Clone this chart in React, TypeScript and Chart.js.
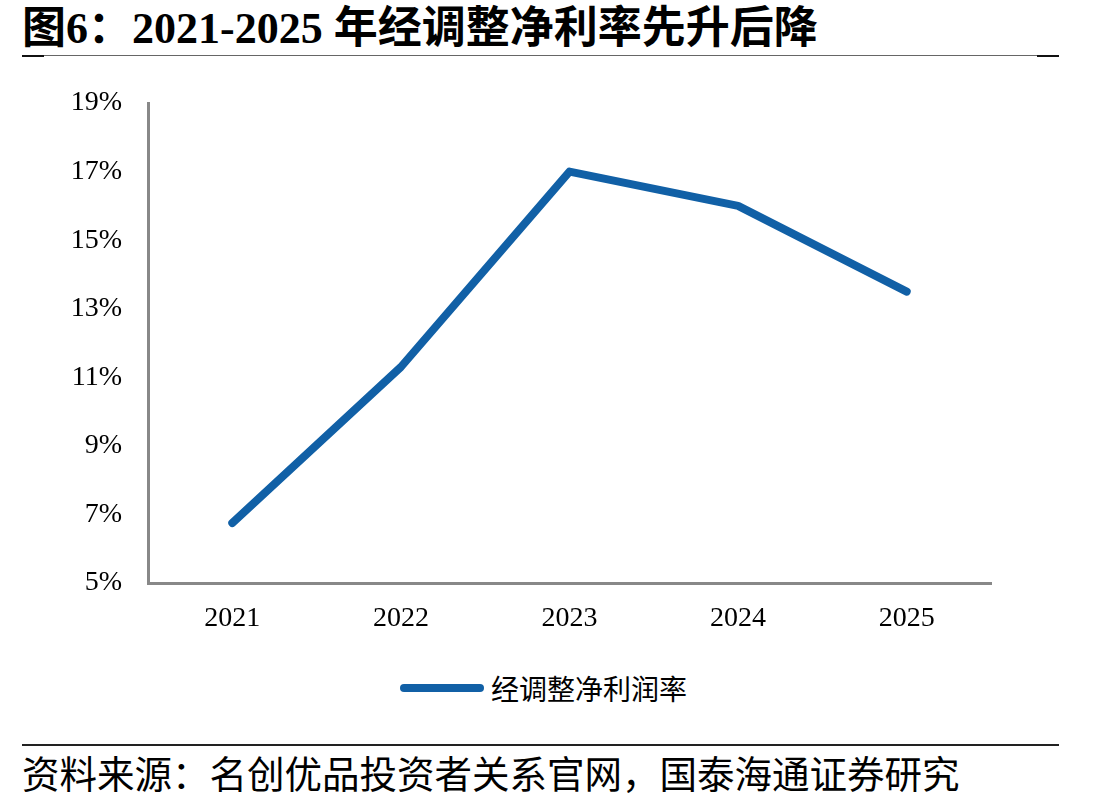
import React, { useEffect, useRef } from "react";
import { Chart, registerables } from "chart.js";

Chart.register(...registerables);

const categories = ["2021", "2022", "2023", "2024", "2025"];
const netMargin = [6.75, 11.3, 17.0, 16.0, 13.5];
const yTickValues = [5, 7, 9, 11, 13, 15, 17, 19];
const seriesName = "经调整净利润率";
const titleText = "图6：2021-2025 年经调整净利率先升后降";
const sourceText = "资料来源：名创优品投资者关系官网，国泰海通证券研究";

const LINE_COLOR = "#1160A6";
const AXIS_COLOR = "#888888";
const SERIF = '"Liberation Serif", "Times New Roman", "Noto Sans CJK SC", serif';

export default function App() {
  const canvasRef = useRef<HTMLCanvasElement | null>(null);

  useEffect(() => {
    document.body.style.margin = "0";
    const canvas = canvasRef.current;
    if (!canvas) return;
    const chart = new Chart(canvas, {
      type: "line",
      data: {
        labels: categories,
        datasets: [
          {
            label: seriesName,
            data: netMargin,
            borderColor: LINE_COLOR,
            backgroundColor: LINE_COLOR,
            borderWidth: 8,
            borderCapStyle: "round",
            borderJoinStyle: "round",
            pointRadius: 0,
            pointHoverRadius: 0,
            tension: 0,
            fill: false,
          },
        ],
      },
      options: {
        animation: false,
        responsive: false,
        maintainAspectRatio: false,
        layout: { padding: { left: 0, right: 117, top: 33, bottom: 0 } },
        plugins: {
          legend: { display: false },
          tooltip: { enabled: false },
          title: { display: false },
        },
        scales: {
          x: {
            type: "category",
            offset: true,
            grid: { display: false },
            border: { display: true, color: AXIS_COLOR, width: 3 },
            ticks: {
              color: "#000",
              padding: 11,
              font: { family: SERIF, size: 28 },
              maxRotation: 0,
            },
            afterFit: (scale: any) => {
              scale.height = 67;
              scale.paddingLeft = 0;
              scale.paddingRight = 0;
            },
          },
          y: {
            type: "linear",
            min: yTickValues[0],
            max: yTickValues[yTickValues.length - 1],
            grid: { display: false },
            border: { display: true, color: AXIS_COLOR, width: 3 },
            afterBuildTicks: (scale: any) => {
              scale.ticks = yTickValues.map((v) => ({ value: v }));
            },
            ticks: {
              color: "#000",
              padding: 18,
              font: { family: SERIF, size: 28 },
              callback: (v: any) => `${v}%`,
            },
            afterFit: (scale: any) => {
              scale.width = 148;
              scale.paddingTop = 0;
              scale.paddingBottom = 0;
            },
          },
        },
      },
    });
    return () => chart.destroy();
  }, []);

  return (
    <div
      style={{
        position: "fixed",
        left: 0,
        top: 0,
        width: 1108,
        height: 804,
        background: "#fff",
        overflow: "hidden",
      }}
    >
      <div
        style={{
          position: "absolute",
          left: 22,
          top: 4,
          fontFamily: SERIF,
          fontWeight: 700,
          fontSize: 44,
          lineHeight: "50px",
          color: "#000",
          whiteSpace: "nowrap",
        }}
      >
        {titleText}
      </div>
      <div style={{ position: "absolute", left: 22, top: 55, width: 1036, height: 1, background: "#666" }} />
      <div style={{ position: "absolute", left: 22, top: 55, width: 22, height: 2, background: "#111" }} />
      <div style={{ position: "absolute", left: 1037, top: 55, width: 22, height: 2, background: "#111" }} />

      <canvas
        ref={canvasRef}
        width={1108}
        height={580}
        style={{ position: "absolute", left: 0, top: 70, width: 1108, height: 580 }}
      />

      <div style={{ position: "absolute", left: 400, top: 684, width: 84, height: 8, borderRadius: 4, background: LINE_COLOR }} />
      <div
        style={{
          position: "absolute",
          left: 491,
          top: 669,
          fontFamily: '"Noto Sans CJK SC", sans-serif',
          fontSize: 28,
          lineHeight: "38px",
          color: "#000",
          whiteSpace: "nowrap",
        }}
      >
        {seriesName}
      </div>

      <div style={{ position: "absolute", left: 22, top: 744, width: 1037, height: 2, background: "#222" }} />
      <div
        style={{
          position: "absolute",
          left: 22,
          top: 750,
          fontFamily: '"Noto Sans CJK SC", sans-serif',
          fontSize: 37.5,
          lineHeight: "44px",
          color: "#000",
          whiteSpace: "nowrap",
        }}
      >
        {sourceText}
      </div>
    </div>
  );
}
